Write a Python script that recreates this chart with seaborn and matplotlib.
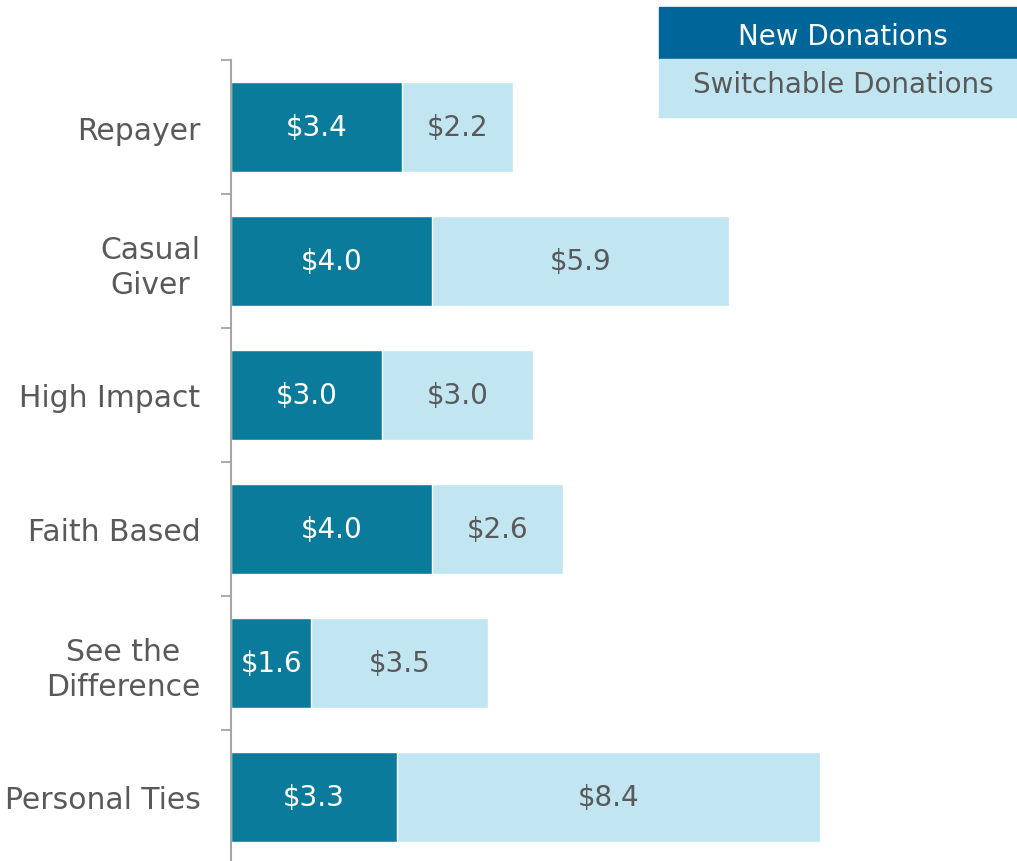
import numpy as np
import pandas as pd
import matplotlib
matplotlib.use("Agg")
import matplotlib.pyplot as plt
import seaborn as sns
from matplotlib.patches import Rectangle

# %%

segments = ["Repayer", "Casual\nGiver", "High Impact", "Faith Based",
            "See the\nDifference", "Personal Ties"]
new_donations = [3.4, 4.0, 3.0, 4.0, 1.6, 3.3]
switchable_donations = [2.2, 5.9, 3.0, 2.6, 3.5, 8.4]

dark = "#0b7b9c"
light = "#c2e5f2"
legend_dark = "#006699"
grey_text = "#595959"

# %%

df = pd.DataFrame({"segment": segments,
                   "new": new_donations,
                   "switchable": switchable_donations})
df["total"] = df["new"] + df["switchable"]

sns.set_style("white")
plt.rcParams["font.family"] = ["DejaVu Sans"]

fig = plt.figure(figsize=(10.17, 8.62), dpi=100)
ax = fig.add_axes([231 / 1017, -3 / 862, 786 / 1017, 804 / 862])

sns.barplot(data=df, x="total", y="segment", color=light, width=0.67,
            saturation=1, ax=ax, orient="h")
sns.barplot(data=df, x="new", y="segment", color=dark, width=0.67,
            saturation=1, ax=ax, orient="h")

ax.set_xlim(0, 786 / 50.3)
ax.set_ylim(len(segments) - 0.5, -0.5)
ax.set_xlabel("")
ax.set_ylabel("")
ax.set_xticks([])

# labels at centers, tick marks at category boundaries
ax.set_yticks(range(len(segments)))
ax.set_yticklabels(segments, fontsize=21.5, color=grey_text)
for lab in ax.get_yticklabels():
    lab.set_multialignment("center")
    lab.set_linespacing(1.25)
ax.tick_params(axis="y", which="major", length=0, pad=22)
ax.set_yticks(np.arange(-0.5, len(segments) + 0.5, 1), minor=True)
ax.tick_params(axis="y", which="minor", left=True, length=7, width=1.3,
               color="#a6a6a6", direction="out")

for side in ["top", "right", "bottom"]:
    ax.spines[side].set_visible(False)
ax.spines["left"].set_color("#a6a6a6")
ax.spines["left"].set_linewidth(1.5)

# value labels
for i, (n, s) in enumerate(zip(new_donations, switchable_donations)):
    ax.text(n / 2, i, f"${n:.1f}", ha="center", va="center",
            fontsize=20, color="white")
    ax.text(n + s / 2, i, f"${s:.1f}", ha="center", va="center",
            fontsize=20, color=grey_text)

# legend box
fig.patches.append(Rectangle((659 / 1017, 1 - 60 / 862), 358 / 1017, 52 / 862,
                             transform=fig.transFigure, color=legend_dark, zorder=3))
fig.patches.append(Rectangle((659 / 1017, 1 - 118 / 862), 358 / 1017, 58 / 862,
                             transform=fig.transFigure, color=light, zorder=3))
fig.text(843 / 1017, 1 - 37 / 862, "New Donations", ha="center", va="center",
         fontsize=20, color="white", zorder=4)
fig.text(843 / 1017, 1 - 85 / 862, "Switchable Donations", ha="center", va="center",
         fontsize=20, color=grey_text, zorder=4)

fig.savefig("out.png", dpi=100)
